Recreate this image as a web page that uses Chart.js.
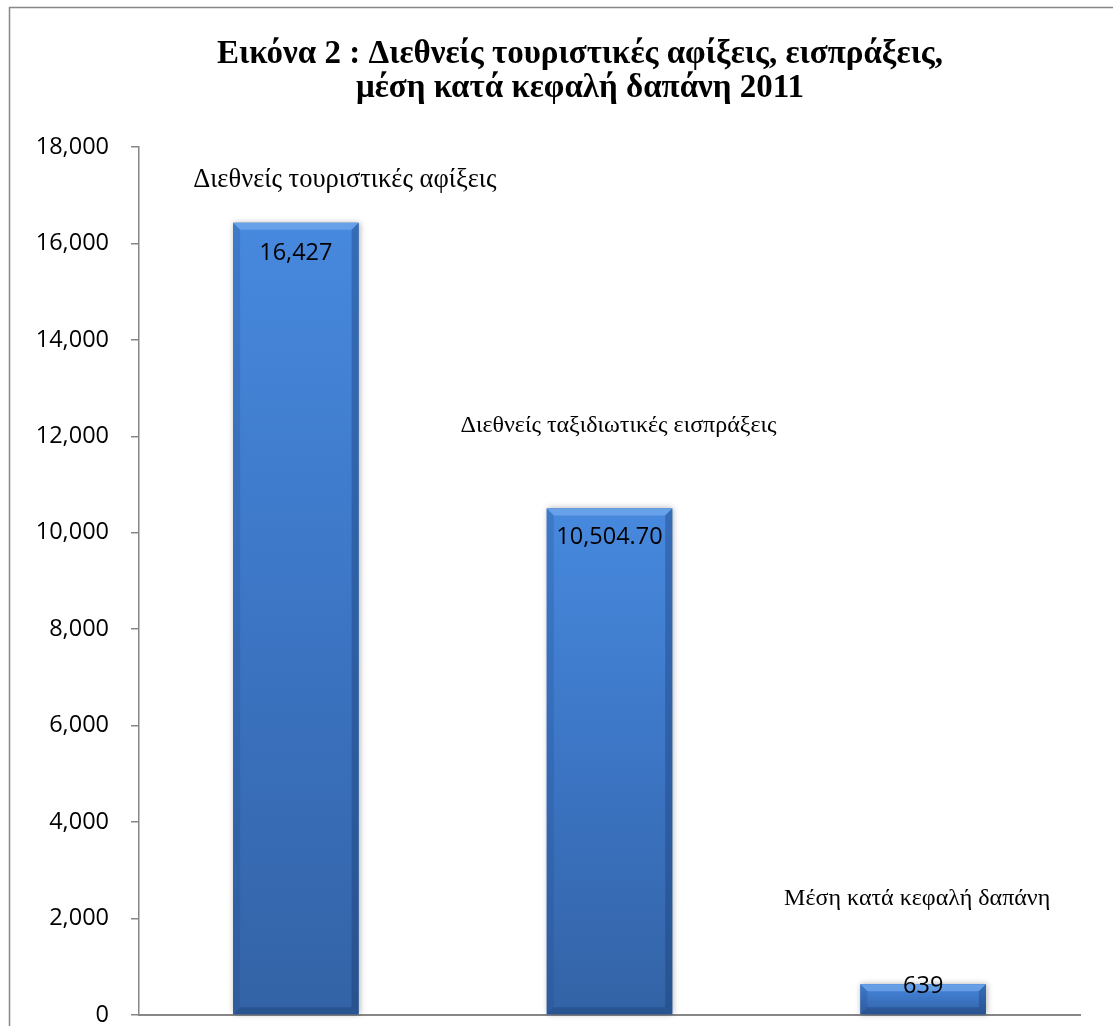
<!DOCTYPE html>
<html lang="el">
<head>
  <meta charset="UTF-8" />
  <title>Εικόνα 2</title>
  <script src="https://cdn.jsdelivr.net/npm/chart.js"></script>
  <style>
    html, body { margin: 0; padding: 0; background: #fff; overflow: hidden; }
    canvas { display: block; }
  </style>
</head>
<body>
  <canvas id="chart" width="1113" height="1026"></canvas>

  <script>
    // dados
    const categorias = ['Διεθνείς τουριστικές αφίξεις', 'Διεθνείς ταξιδιωτικές εισπράξεις', 'Μέση κατά κεφαλή δαπάνη'];
    const valores = [16427, 10504.7, 639];
    const rotulosValores = ['16,427', '10,504.70', '639'];
    const ticksY = [0, 2000, 4000, 6000, 8000, 10000, 12000, 14000, 16000, 18000];
    const titulo = ['Εικόνα 2 : Διεθνείς τουριστικές αφίξεις, εισπράξεις,', 'μέση κατά κεφαλή δαπάνη 2011'];

    // onde cada nome de categoria fica em relação ao topo da barra
    const deslocNomes = [[49, -43], [9, -83], [-6, -85]];
    const tamanhoNomes = [26.5, 24, 24];
    const deslocValores = [30, 29, 2];

    const cinza = '#878787';

    // moldura, título, barras em relevo e textos
    const pluginDesenho = {
      id: 'desenho',
      beforeDraw(chart) {
        const ctx = chart.ctx;
        ctx.save();
        ctx.strokeStyle = cinza;
        ctx.lineWidth = 1.5;
        ctx.strokeRect(9.5, 7.5, chart.width + 20, chart.height + 20);

        ctx.fillStyle = '#000';
        ctx.textAlign = 'center';
        ctx.textBaseline = 'middle';
        ctx.font = 'bold 33px "Liberation Serif"';
        ctx.fillText(titulo[0], 580, 54);
        ctx.fillText(titulo[1], 580, 88);
        ctx.restore();
      },
      afterDatasetsDraw(chart) {
        const ctx = chart.ctx;
        const meta = chart.getDatasetMeta(0);
        meta.data.forEach((bar) => {
          const { x, y, base, width } = bar.getProps(['x', 'y', 'base', 'width'], true);
          const l = x - width / 2, r = x + width / 2, h = base - y;
          const b = Math.min(7, h / 3);

          ctx.save();
          ctx.shadowColor = 'rgba(0,0,0,0.3)';
          ctx.shadowBlur = 6;
          ctx.shadowOffsetX = 1;
          const g = ctx.createLinearGradient(0, y, 0, base);
          g.addColorStop(0, '#4789de');
          g.addColorStop(0.5, '#3c75c4');
          g.addColorStop(1, '#3363a6');
          ctx.fillStyle = g;
          ctx.fillRect(l, y, width, h);
          ctx.restore();

          ctx.save();
          // topo claro
          ctx.fillStyle = 'rgba(130,180,240,0.55)';
          ctx.beginPath();
          ctx.moveTo(l, y); ctx.lineTo(r, y); ctx.lineTo(r - b, y + b); ctx.lineTo(l + b, y + b);
          ctx.closePath(); ctx.fill();
          // lados
          ctx.fillStyle = 'rgba(30,70,130,0.22)';
          ctx.beginPath();
          ctx.moveTo(l, y); ctx.lineTo(l + b, y + b); ctx.lineTo(l + b, base - b); ctx.lineTo(l, base);
          ctx.closePath(); ctx.fill();
          ctx.fillStyle = 'rgba(20,50,100,0.32)';
          ctx.beginPath();
          ctx.moveTo(r, y); ctx.lineTo(r - b, y + b); ctx.lineTo(r - b, base - b); ctx.lineTo(r, base);
          ctx.closePath(); ctx.fill();
          // base
          ctx.fillStyle = 'rgba(20,50,100,0.3)';
          ctx.beginPath();
          ctx.moveTo(l, base); ctx.lineTo(l + b, base - b); ctx.lineTo(r - b, base - b); ctx.lineTo(r, base);
          ctx.closePath(); ctx.fill();
          ctx.restore();
        });
      },
      afterDraw(chart) {
        const ctx = chart.ctx;
        const meta = chart.getDatasetMeta(0);
        ctx.save();
        ctx.textAlign = 'center';
        ctx.textBaseline = 'middle';
        ctx.fillStyle = '#000';
        meta.data.forEach((bar, i) => {
          const { x, y } = bar.getProps(['x', 'y'], true);
          ctx.font = '23.5px "Open Sans"';
          ctx.fillText(rotulosValores[i], x, y + deslocValores[i]);
          ctx.font = tamanhoNomes[i] + 'px "Liberation Serif"';
          ctx.fillText(categorias[i], x + deslocNomes[i][0], y + deslocNomes[i][1]);
        });
        ctx.restore();
      }
    };

    new Chart(document.getElementById('chart'), {
      type: 'bar',
      data: {
        labels: categorias,
        datasets: [{
          data: valores,
          backgroundColor: '#3c75c4',
          barPercentage: 0.4,
          categoryPercentage: 1
        }]
      },
      plugins: [pluginDesenho],
      options: {
        responsive: false,
        animation: false,
        layout: { padding: { left: 16, right: 33, top: 147, bottom: 11 } },
        plugins: {
          legend: { display: false },
          tooltip: { enabled: false },
          title: { display: false }
        },
        scales: {
          x: {
            ticks: { display: false },
            grid: { display: false },
            border: { color: cinza, width: 2 },
            afterFit(s) { s.height = 0; }
          },
          y: {
            min: 0,
            max: 18000,
            afterFit(s) { s.width = 123; s.paddingTop = 0; s.paddingBottom = 0; },
            afterBuildTicks(s) { s.ticks = ticksY.map(v => ({ value: v })); },
            ticks: {
              color: '#000',
              padding: 22,
              font: { family: 'Open Sans', size: 23.5 },
              callback: v => v.toLocaleString('en-US')
            },
            grid: { drawOnChartArea: false, tickLength: 8, color: cinza, lineWidth: 1.5 },
            border: { color: cinza, width: 1.5 }
          }
        }
      }
    });
  </script>
</body>
</html>
